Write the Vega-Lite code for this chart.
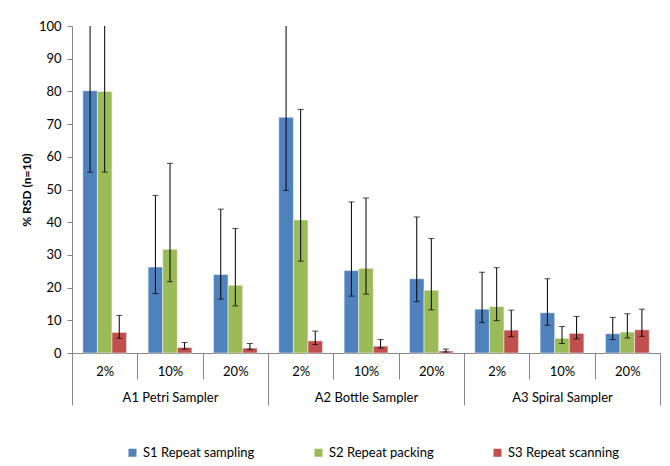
{
  "$schema": "https://vega.github.io/schema/vega-lite/v6.json",
  "width": 588,
  "height": 327,
  "autosize": {"type": "none"},
  "padding": {"left": 72, "top": 26, "right": 10, "bottom": 113},
  "background": "white",
  "config": {
    "font": "Lato",
    "view": {"stroke": null},
    "axis": {"labelColor": "black", "titleColor": "black", "labelFontSize": 13, "grid": false},
    "axisY": {
      "values": [0, 10, 20, 30, 40, 50, 60, 70, 80, 90, 100],
      "tickSize": 5, "labelPadding": 6, "domainColor": "#868686", "tickColor": "#868686",
      "titleFontWeight": "bold", "titleFontSize": 12, "titlePadding": 5
    }
  },
  "data": {
    "values": [
      {"cat": "A1 Petri Sampler|2%", "series": "S1 Repeat sampling", "value": 80.2, "lo": 55.3, "hi": 105},
      {"cat": "A1 Petri Sampler|2%", "series": "S2 Repeat packing", "value": 80.0, "lo": 55.3, "hi": 105},
      {"cat": "A1 Petri Sampler|2%", "series": "S3 Repeat scanning", "value": 6.3, "lo": 4.5, "hi": 11.5},
      {"cat": "A1 Petri Sampler|10%", "series": "S1 Repeat sampling", "value": 26.3, "lo": 18.2, "hi": 48.2},
      {"cat": "A1 Petri Sampler|10%", "series": "S2 Repeat packing", "value": 31.7, "lo": 21.8, "hi": 58.0},
      {"cat": "A1 Petri Sampler|10%", "series": "S3 Repeat scanning", "value": 1.7, "lo": 1.2, "hi": 3.2},
      {"cat": "A1 Petri Sampler|20%", "series": "S1 Repeat sampling", "value": 24.0, "lo": 16.5, "hi": 44.0},
      {"cat": "A1 Petri Sampler|20%", "series": "S2 Repeat packing", "value": 20.7, "lo": 14.4, "hi": 38.1},
      {"cat": "A1 Petri Sampler|20%", "series": "S3 Repeat scanning", "value": 1.5, "lo": 1.1, "hi": 2.9},
      {"cat": "A2 Bottle Sampler|2%", "series": "S1 Repeat sampling", "value": 72.1, "lo": 49.7, "hi": 105},
      {"cat": "A2 Bottle Sampler|2%", "series": "S2 Repeat packing", "value": 40.7, "lo": 28.1, "hi": 74.5},
      {"cat": "A2 Bottle Sampler|2%", "series": "S3 Repeat scanning", "value": 3.7, "lo": 2.6, "hi": 6.7},
      {"cat": "A2 Bottle Sampler|10%", "series": "S1 Repeat sampling", "value": 25.2, "lo": 17.4, "hi": 46.2},
      {"cat": "A2 Bottle Sampler|10%", "series": "S2 Repeat packing", "value": 25.9, "lo": 18.0, "hi": 47.4},
      {"cat": "A2 Bottle Sampler|10%", "series": "S3 Repeat scanning", "value": 2.1, "lo": 1.5, "hi": 4.1},
      {"cat": "A2 Bottle Sampler|20%", "series": "S1 Repeat sampling", "value": 22.7, "lo": 15.7, "hi": 41.6},
      {"cat": "A2 Bottle Sampler|20%", "series": "S2 Repeat packing", "value": 19.2, "lo": 13.2, "hi": 35.0},
      {"cat": "A2 Bottle Sampler|20%", "series": "S3 Repeat scanning", "value": 0.6, "lo": 0.3, "hi": 1.2},
      {"cat": "A3 Spiral Sampler|2%", "series": "S1 Repeat sampling", "value": 13.4, "lo": 9.3, "hi": 24.7},
      {"cat": "A3 Spiral Sampler|2%", "series": "S2 Repeat packing", "value": 14.2, "lo": 9.9, "hi": 26.1},
      {"cat": "A3 Spiral Sampler|2%", "series": "S3 Repeat scanning", "value": 7.0, "lo": 5.0, "hi": 13.1},
      {"cat": "A3 Spiral Sampler|10%", "series": "S1 Repeat sampling", "value": 12.3, "lo": 8.5, "hi": 22.7},
      {"cat": "A3 Spiral Sampler|10%", "series": "S2 Repeat packing", "value": 4.5, "lo": 2.9, "hi": 8.1},
      {"cat": "A3 Spiral Sampler|10%", "series": "S3 Repeat scanning", "value": 6.0, "lo": 4.3, "hi": 11.2},
      {"cat": "A3 Spiral Sampler|20%", "series": "S1 Repeat sampling", "value": 5.9, "lo": 4.1, "hi": 10.9},
      {"cat": "A3 Spiral Sampler|20%", "series": "S2 Repeat packing", "value": 6.4, "lo": 4.6, "hi": 12.0},
      {"cat": "A3 Spiral Sampler|20%", "series": "S3 Repeat scanning", "value": 7.1, "lo": 5.1, "hi": 13.4}
    ]
  },
  "layer": [
    {
      "mark": {"type": "bar", "stroke": "white", "strokeWidth": 0.7, "strokeOpacity": 0.7},
      "encoding": {
        "x": {
          "field": "cat", "type": "nominal", "sort": null,
          "scale": {"paddingInner": 0, "paddingOuter": 0},
          "axis": {
            "orient": "bottom", "title": null, "labelAngle": 0,
            "labelExpr": "isString(datum.value) ? split(datum.value, '|')[1] : ''",
            "tickBand": "extent", "tickSize": 26, "tickColor": "#868686",
            "domainColor": "#868686", "labelPadding": -8, "labelBaseline": "middle"
          }
        },
        "xOffset": {"field": "series", "type": "nominal", "scale": {"paddingInner": 0, "paddingOuter": 0.74}},
        "y": {
          "field": "value", "type": "quantitative",
          "scale": {"domain": [0, 100]},
          "title": "% RSD (n=10)"
        },
        "color": {
          "field": "series", "type": "nominal",
          "scale": {"range": ["#4F81BD", "#9BBB59", "#C0504D"]},
          "legend": {
            "title": null, "orient": "none", "legendX": 54, "legendY": 420, "direction": "horizontal",
            "symbolType": "square", "symbolSize": 64, "symbolStrokeWidth": 0,
            "labelFontSize": 13, "labelColor": "black", "columnPadding": 57, "labelOffset": 4
          }
        }
      }
    },
    {
      "mark": {"type": "rule", "color": "black", "strokeWidth": 1, "clip": true},
      "encoding": {
        "x": {
          "field": "cat", "type": "nominal", "sort": null,
          "axis": {
            "orient": "bottom", "title": null, "labelAngle": 0, "domain": false,
            "labelExpr": "isString(datum.value) && indexof(datum.value, '|10%') >= 0 ? split(datum.value, '|')[0] : ''",
            "tickBand": "extent", "tickSize": 52, "tickColor": "#868686",
            "tickOpacity": {"condition": {"test": "!isString(datum.value) || datum.index >= 1 || indexof(datum.value, '|20%') >= 0", "value": 1}, "value": 0},
            "labelPadding": -8, "labelBaseline": "middle"
          }
        },
        "xOffset": {"field": "series", "type": "nominal"},
        "y": {"field": "lo", "type": "quantitative", "scale": {"domain": [0, 100]}, "title": "% RSD (n=10)"},
        "y2": {"field": "hi"}
      }
    },
    {
      "mark": {"type": "tick", "color": "black", "size": 6, "thickness": 1, "clip": true},
      "encoding": {
        "x": {"field": "cat", "type": "nominal", "sort": null, "axis": null},
        "xOffset": {"field": "series", "type": "nominal"},
        "y": {"field": "lo", "type": "quantitative", "scale": {"domain": [0, 100]}, "title": "% RSD (n=10)"}
      }
    },
    {
      "mark": {"type": "tick", "color": "black", "size": 6, "thickness": 1, "clip": true},
      "encoding": {
        "x": {"field": "cat", "type": "nominal", "sort": null, "axis": null},
        "xOffset": {"field": "series", "type": "nominal"},
        "y": {"field": "hi", "type": "quantitative", "scale": {"domain": [0, 100]}, "title": "% RSD (n=10)"}
      }
    }
  ],
  "resolve": {"axis": {"x": "independent"}}
}
